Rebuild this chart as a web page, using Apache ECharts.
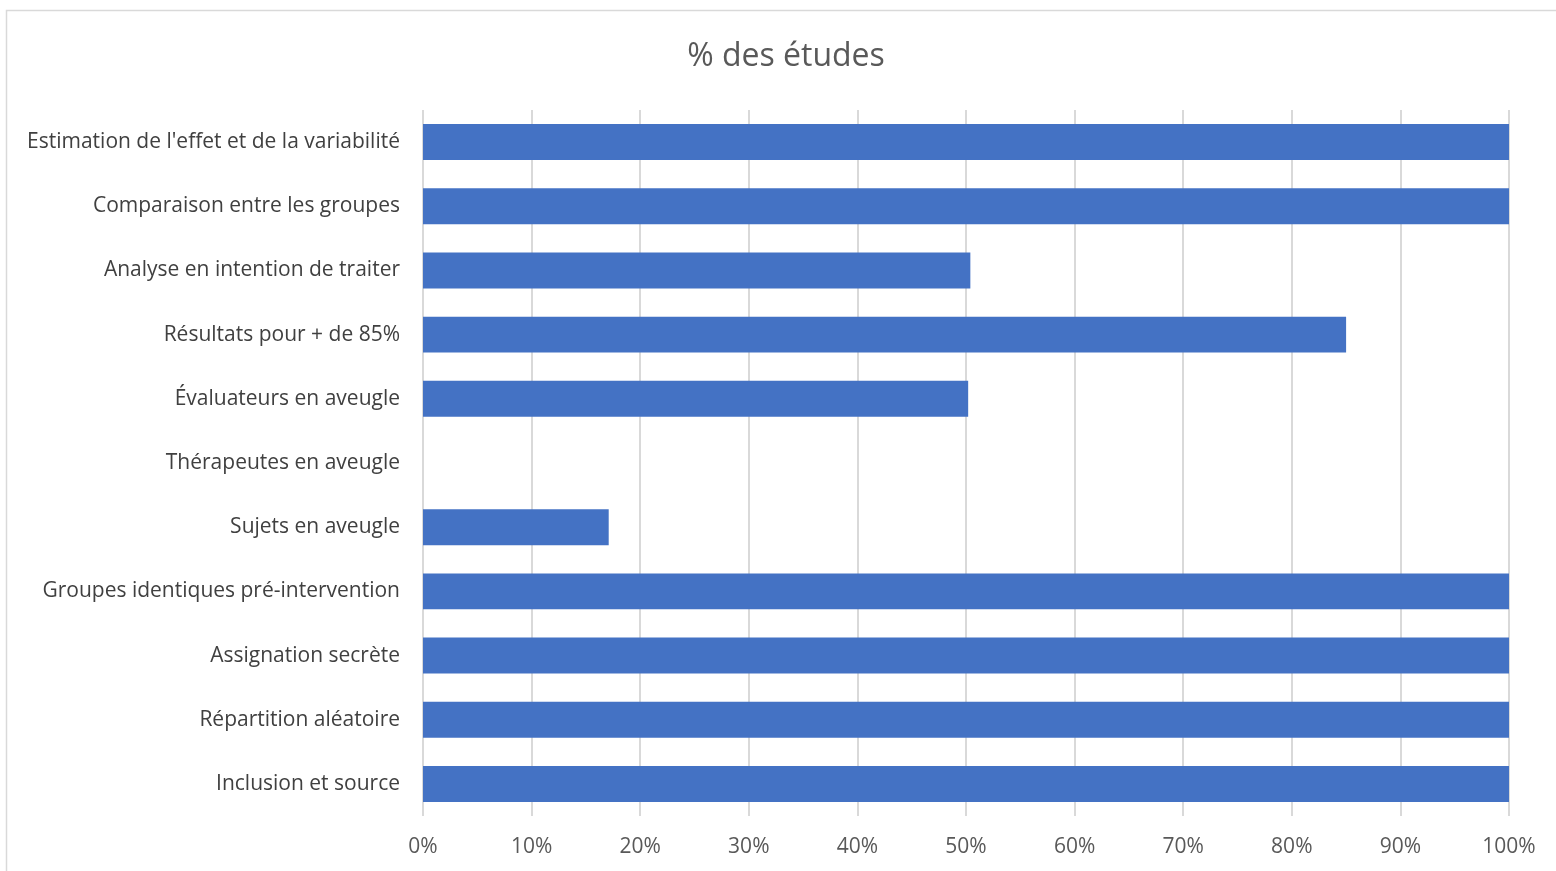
<!DOCTYPE html>
<html>
<head>
<meta charset="utf-8">
<script src="https://cdn.jsdelivr.net/npm/echarts@6/dist/echarts.min.js"></script>
<style>
html,body{margin:0;padding:0;background:#fff;}
#main{width:1556px;height:871px;}
</style>
</head>
<body>
<div id="main"></div>
<script>
const categories = [
  "Inclusion et source",
  "Répartition aléatoire",
  "Assignation secrète",
  "Groupes identiques pré-intervention",
  "Sujets en aveugle",
  "Thérapeutes en aveugle",
  "Évaluateurs en aveugle",
  "Résultats pour + de 85%",
  "Analyse en intention de traiter",
  "Comparaison entre les groupes",
  "Estimation de l'effet et de la variabilité"
];
const values = [100, 100, 100, 100, 17.1, 0, 50.2, 85, 50.4, 100, 100];
const xTicks = [0, 10, 20, 30, 40, 50, 60, 70, 80, 90, 100];
const titleText = "% des études";

const chart = echarts.init(document.getElementById('main'), null, {renderer: 'canvas'});
chart.setOption({
  animation: false,
  backgroundColor: '#ffffff',
  title: {
    text: titleText,
    left: 781, top: 36, textAlign: 'center',
    textStyle: {fontFamily: 'Open Sans', fontSize: 32, fontWeight: 'normal', color: '#595959'}
  },
  graphic: [{
    type: 'rect', silent: true,
    shape: {x: 6.5, y: 10.5, width: 1600, height: 900},
    style: {fill: 'none', stroke: '#d9d9d9', lineWidth: 1.5}
  }],
  grid: {left: 423, right: 47, top: 110, bottom: 55, containLabel: false},
  xAxis: {
    type: 'value', min: xTicks[0], max: xTicks[xTicks.length - 1], interval: 10,
    axisLine: {show: false}, axisTick: {show: false},
    splitLine: {show: true, lineStyle: {color: '#d9d9d9', width: 2}},
    axisLabel: {formatter: '{value}%', fontFamily: 'Open Sans', fontSize: 21, color: '#595959', margin: 21}
  },
  yAxis: {
    type: 'category', data: categories,
    axisLine: {show: false}, axisTick: {show: false},
    axisLabel: {fontFamily: 'Open Sans', fontSize: 21, color: '#404040', margin: 23}
  },
  series: [{
    type: 'bar', data: values, barCategoryGap: '44%',
    itemStyle: {color: '#4472C4'}
  }]
});
</script>
</body>
</html>
